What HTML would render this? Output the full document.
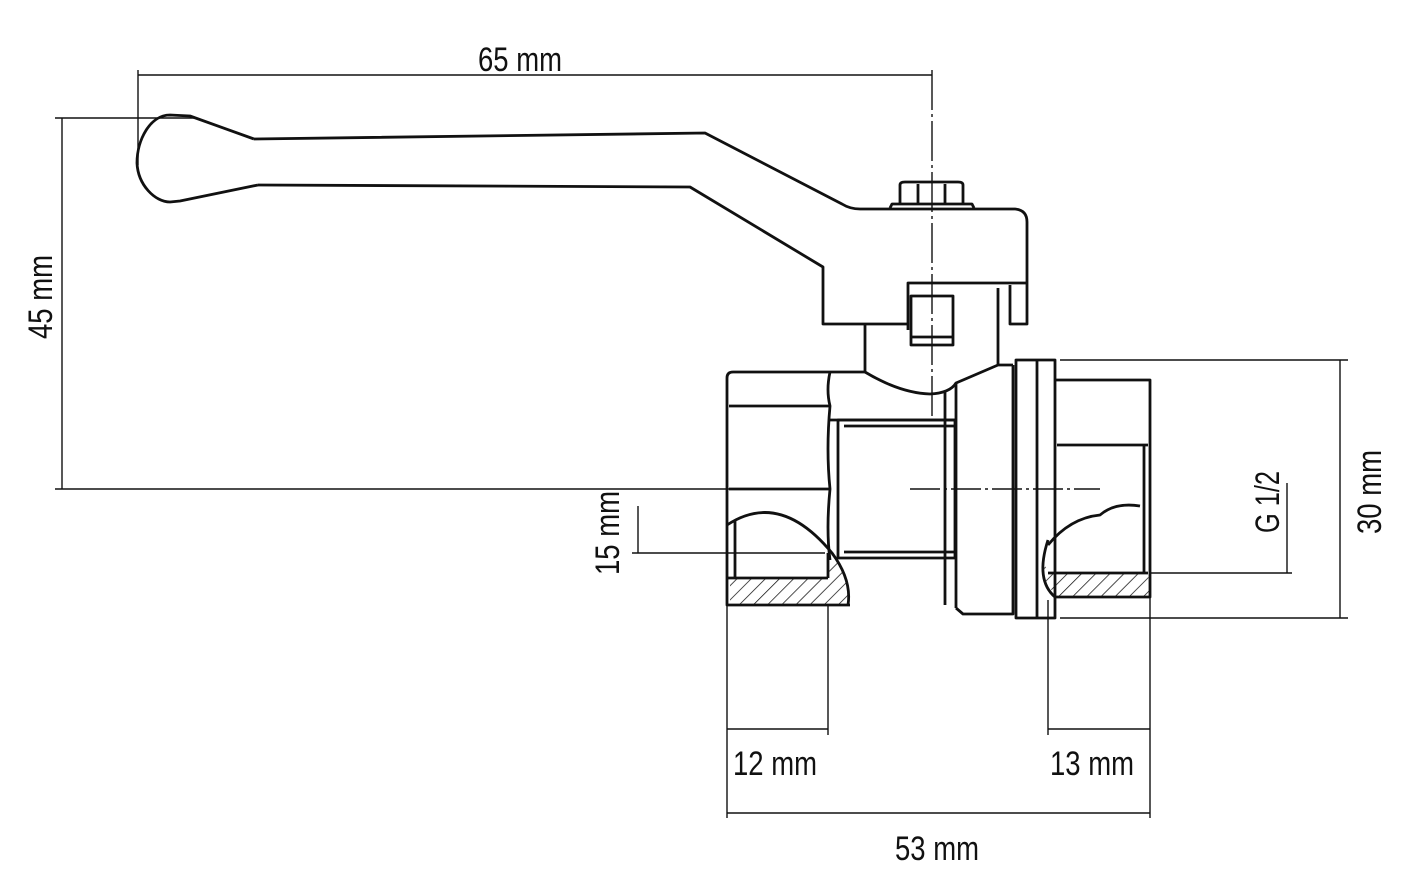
<!DOCTYPE html>
<html><head><meta charset="utf-8"><style>
html,body{margin:0;padding:0;background:#fff;}
svg{display:block;}
text{font-family:"Liberation Sans",sans-serif;font-size:34px;fill:#111;}
</style></head><body>
<svg width="1415" height="882" viewBox="0 0 1415 882" xmlns="http://www.w3.org/2000/svg">
<defs>
<pattern id="h" patternUnits="userSpaceOnUse" width="10" height="10" patternTransform="rotate(45)">
<line x1="0" y1="0" x2="0" y2="10" stroke="#111" stroke-width="1.5"/>
</pattern>
</defs>
<g fill="none" stroke="#111" stroke-width="1.4">
<line x1="138" y1="70" x2="138" y2="165"/>
<line x1="138" y1="75" x2="932" y2="75"/>
<line x1="932" y1="70" x2="932" y2="420" stroke-dasharray="40 4 3 4"/>
<line x1="55" y1="118" x2="195" y2="118"/>
<line x1="62" y1="118" x2="62" y2="489"/>
<line x1="55" y1="489" x2="730" y2="489"/>
<line x1="910" y1="489" x2="1100" y2="489" stroke-dasharray="30 4 3 4"/>
<line x1="638" y1="506" x2="638" y2="553"/>
<line x1="632" y1="553" x2="825" y2="553"/>
<line x1="1060" y1="360" x2="1348" y2="360"/>
<line x1="1060" y1="618" x2="1348" y2="618"/>
<line x1="1340" y1="360" x2="1340" y2="618"/>
<line x1="1287" y1="483" x2="1287" y2="573"/>
<line x1="1150" y1="573" x2="1292" y2="573"/>
<line x1="727" y1="605" x2="727" y2="818"/>
<line x1="828" y1="605" x2="828" y2="735"/>
<line x1="1048" y1="600" x2="1048" y2="735"/>
<line x1="1150" y1="597" x2="1150" y2="818"/>
<line x1="727" y1="729" x2="828" y2="729"/>
<line x1="1048" y1="729" x2="1150" y2="729"/>
<line x1="727" y1="813" x2="1150" y2="813"/>
</g>
<path d="M730 578 L828 578 L832 553 Q850 570 848 605 L730 605 Z" fill="url(#h)"/>
<path d="M1048 573 L1148 573 L1150 597 L1058 597 Q1040 580 1045 565 Z" fill="url(#h)"/>
<g fill="none" stroke="#111" stroke-width="2.8" stroke-linejoin="round">
<path d="M254 139 L705 133 L842 204 Q850 209 860 209 L1015 209 Q1027 210 1027 222 L1027 283"/>
<path d="M258 185 L690 187 L823 267 L823 324 L908 324"/>
<path d="M254 139 L190 116 L170 115 C150 115 137 140 137 163 C138 185 155 202 170 202 L180 201 L258 185"/>
<path d="M900 205 L900 185 Q900 182 905 182 L958 182 Q963 182 963 185 L963 205"/>
<line x1="918" y1="184" x2="918" y2="205"/><line x1="945" y1="184" x2="945" y2="205"/>
<path d="M890 208 L892 204 L972 204 L974 208"/>
<path d="M908 330 L908 283 L1027 283"/>
<rect x="911" y="296" width="42" height="49"/>
<line x1="911" y1="337" x2="953" y2="337"/>
<path d="M998 288 L998 365"/>
<path d="M1010 285 L1010 324 L1027 324 L1027 283"/>
<path d="M865 324 L865 372"/>
<path d="M865 372 Q900 393 930 394 Q950 393 956 383 L998 365 L1013 365"/>
<path d="M727 378 Q727 372 733 372 L865 372"/>
<path d="M727 378 L727 605 L850 605"/>
<path d="M830 372 Q826 390 830 406 Q826 450 830 489 Q826 530 830 560"/>
<line x1="729" y1="406" x2="830" y2="406"/>
<line x1="729" y1="489" x2="830" y2="489"/>
<path d="M727 525 Q780 490 832 553 Q852 580 848 605"/>
<line x1="735" y1="520" x2="735" y2="578"/>
<line x1="727" y1="578" x2="828" y2="578"/>
<line x1="828" y1="578" x2="828" y2="553"/>
<rect x="838" y="420" width="117" height="138"/>
<line x1="844" y1="426" x2="954" y2="426"/>
<line x1="844" y1="552" x2="954" y2="552"/>
<line x1="830" y1="420" x2="956" y2="420"/>
<line x1="945" y1="392" x2="945" y2="605"/>
<line x1="956" y1="383" x2="956" y2="608"/>
<path d="M956 608 L963 614 L1013 614 L1013 365"/>
<rect x="1016" y="360" width="39" height="258"/>
<line x1="1037" y1="360" x2="1037" y2="618"/>
<path d="M1055 380 L1150 380 L1150 597 L1055 597"/>
<line x1="1057" y1="445" x2="1148" y2="445"/>
<line x1="1144" y1="445" x2="1144" y2="573"/>
<path d="M1048 545 Q1070 518 1100 515 Q1115 502 1140 506"/>
<path d="M1048 540 Q1035 580 1055 597"/>
<line x1="1048" y1="573" x2="1148" y2="573"/>
</g>
<text x="520" y="71" text-anchor="middle" textLength="84" lengthAdjust="spacingAndGlyphs">65 mm</text>
<text transform="translate(52,297) rotate(-90)" text-anchor="middle" textLength="84" lengthAdjust="spacingAndGlyphs">45 mm</text>
<text transform="translate(619,533) rotate(-90)" text-anchor="middle" textLength="84" lengthAdjust="spacingAndGlyphs">15 mm</text>
<text transform="translate(1279,502) rotate(-90)" text-anchor="middle" textLength="62" lengthAdjust="spacingAndGlyphs">G 1/2</text>
<text transform="translate(1381,492) rotate(-90)" text-anchor="middle" textLength="84" lengthAdjust="spacingAndGlyphs">30 mm</text>
<text x="775" y="775" text-anchor="middle" textLength="84" lengthAdjust="spacingAndGlyphs">12 mm</text>
<text x="1092" y="775" text-anchor="middle" textLength="84" lengthAdjust="spacingAndGlyphs">13 mm</text>
<text x="937" y="860" text-anchor="middle" textLength="84" lengthAdjust="spacingAndGlyphs">53 mm</text>
</svg>
</body></html>
